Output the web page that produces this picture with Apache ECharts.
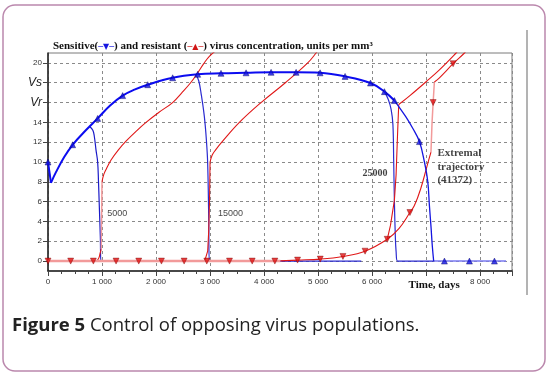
<!DOCTYPE html>
<html><head><meta charset="utf-8">
<script src="https://cdn.jsdelivr.net/npm/echarts/dist/echarts.min.js"></script>
<style>html,body{margin:0;padding:0;background:#fff}#c{width:549px;height:375px}</style>
</head><body><div id="c"></div>
<script>
// ---- data ----
const yTickValues = [0,2,4,6,8,10,12,14,16,18,20];
const yTickNames = {16:'Vr', 18:'Vs'};

const blueMainStart = [[0,10],[55,7.9]];
const blueMainUpper = [[55,7.9],[150,9.0],[300,10.5],[456,11.74],[700,13.2],[919,14.4],[1150,15.7],[1382,16.7],[1600,17.3],[1845,17.8],[2308,18.5],[2771,18.85],[3203,18.95],[3667,19.0],[4130,19.05],[4593,19.05],[5037,19.0],[5500,18.64],[5970,17.97],[6228,17.1],[6413,16.2]];
const blueMainLower = [[6413,16.2],[6620,14.6],[6752,13.4],[6876,12.06],[6969,10.0],[7031,8.0],[7061,5.6],[7090,3.5],[7115,1.5],[7140,0]];
const blueMainTail = [[7140,0],[8480,0]];
const blue5000 = [[765,13.6],[830,13.2],[857,12.6],[889,11.2],[919,10],[935,8],[950,5.5],[969,2.4],[981,0],[1500,0]];
const blue15000 = [[2740,18.8],[2790,18.2],[2833,16.96],[2894,14.6],[2935,12],[2956,9.87],[2975,4.5],[2987,0],[5800,0]];
const blue25000 = [[6228,17.1],[6300,16.3],[6352,15.3],[6385,13.8],[6400,10],[6413,6],[6430,2.5],[6444,1],[6470,0],[7140,0]];

const redBase = [[0,0],[4300,0]];
const red5000Rise = [[900,0],[940,0.3],[965,0.8],[985,1.2]];
const red5000Jump = [[985,1.2],[1000,8]];
const red5000Curve = [[1000,8],[1030,8.7],[1080,9.3],[1167,10.2],[1300,11.2],[1444,12.1],[1650,13.2],[1815,14],[2050,15],[2307,16],[2480,17],[2640,18],[2760,18.9],[2880,19.9],[2987,20.67],[3172,21.5]];
const red15000Step = [[2900,0],[2956,1.0],[2975,3],[2990,6],[3000,10]];
const red15000Curve = [[3000,10],[3040,10.7],[3100,11.2],[3233,12.1],[3543,14],[3944,16],[4394,18],[4808,20],[4963,21],[5000,21.3]];
const redExtRise = [[4300,0.02],[4620,0.1],[5040,0.2],[5460,0.47],[5870,1.0],[6280,2.2],[6500,3.3],[6700,4.9],[6783,5.6],[6900,7.3],[7031,9.87],[7090,11.0]];
const redExtJump = [[7090,11.0],[7110,14],[7130,16],[7153,18.07]];
const redExtCurve = [[7153,18.07],[7246,18.5],[7500,19.92],[7710,21],[7750,21.3]];
const red25000Step = [[6280,2.2],[6340,3.6],[6413,6.15],[6444,8.7],[6474,13.2],[6493,15.8]];
const red25000Curve = [[6493,15.8],[6700,16.7],[7000,18.1],[7246,19.3],[7555,21],[7600,21.3]];

const redMarkers = [[0,0],[420,0],[840,0],[1260,0],[1680,0],[2100,0],[2520,0],[2940,0],[3360,0],[3780,0],[4200,0],[4620,0.1],[5040,0.2],[5460,0.47],[5870,1.0],[6280,2.2],[6700,4.9],[7130,16],[7500,19.92]];
const blueMarkers = [[0,10],[456,11.74],[919,14.4],[1382,16.7],[1845,17.8],[2308,18.5],[2771,18.85],[3203,18.95],[3667,19.0],[4130,19.05],[4593,19.05],[5037,19.0],[5500,18.64],[5970,17.97],[6228,17.1],[6413,16.2],[6876,12.06],[7339,0],[7802,0],[8265,0]];

const annotations = [
  {name:'5000', value:[1283,4.8], kind:'plain'},
  {name:'15000', value:[3380,4.8], kind:'plain'},
  {name:'25000', value:[6052,8.83], kind:'bold'},
  {name:'Extremal\ntrajectory\n(41372)', value:[7209,11.6], kind:'block'}
];
const titleText = 'Sensitive({bl|─▼─}) and resistant ({rd|─▲─}) virus concentration, units per mm³';
const captionBold = 'Figure 5';
const captionRest = ' Control of opposing virus populations.';

// ---- chart ----
const chart = echarts.init(document.getElementById('c'), null, {renderer:'canvas'});
const RED = '#e01818', PINK = '#f29a9a';
function lineSeries(data, color, width, extra){
  return Object.assign({type:'line', data, showSymbol:false, symbol:'none', smooth:0.4,
    lineStyle:{color, width}, itemStyle:{color}, animation:false, silent:true, z:2}, extra||{});
}
const straight = {smooth:false};
const labelStyles = {
  plain:{fontFamily:'Liberation Sans, Arial', fontSize:9, color:'#111', align:'center', verticalAlign:'middle'},
  bold:{fontFamily:'Liberation Serif', fontWeight:'bold', fontSize:10, color:'#111', align:'center', verticalAlign:'middle'},
  block:{fontFamily:'Liberation Serif', fontWeight:'bold', fontSize:11, lineHeight:13.7, color:'#111', align:'left', verticalAlign:'top'}
};
const option = {
  backgroundColor:'#fff',
  animation:false,
  title:{text:titleText, left:48, top:36,
    textStyle:{fontFamily:'Liberation Serif', fontWeight:'bold', fontSize:11, color:'#111',
      rich:{bl:{color:'#1515e0', fontSize:8, fontFamily:'DejaVu Sans', fontWeight:'bold'},
            rd:{color:'#d01515', fontSize:8, fontFamily:'DejaVu Sans', fontWeight:'bold'}}}},
  grid:{left:48, top:53, width:464, height:218, show:true, borderColor:'#7a7a7a', borderWidth:1, backgroundColor:'transparent'},
  xAxis:{type:'value', min:0, max:8590, interval:1000,
    axisLine:{show:true, onZero:false, lineStyle:{color:'#222', width:1.5}},
    axisTick:{show:true, length:5, lineStyle:{color:'#444'}},
    minorTick:{show:true, splitNumber:4, length:3, lineStyle:{color:'#444'}},
    splitLine:{show:true, lineStyle:{color:'#8a8a8a', type:[3,3], width:1}},
    axisLabel:{showMaxLabel:false, fontFamily:'Liberation Sans, Arial', fontSize:8, color:'#333', margin:7,
      formatter:v=> v===0?'0': (v===7000?'{t|Time, days}': (v/1000)+' 000'),
      rich:{t:{fontFamily:'Liberation Serif', fontWeight:'bold', fontSize:11, color:'#111', padding:[2,0,0,16]}}}},
  yAxis:{type:'value', min:-1, max:21,
    axisLine:{show:true, onZero:false, lineStyle:{color:'#222', width:1.5}},
    axisTick:{show:true, length:5, customValues:yTickValues, lineStyle:{color:'#444'}},
    splitLine:{show:true, lineStyle:{color:'#8a8a8a', type:[3,3], width:1}},
    axisLabel:{customValues:yTickValues, fontFamily:'Liberation Sans, Arial', fontSize:8, color:'#333', margin:6,
      formatter:v=> yTickNames[v]? '{i|'+yTickNames[v]+'}' : String(v),
      rich:{i:{fontFamily:'Liberation Sans, Arial', fontStyle:'italic', fontSize:12, color:'#222'}}}},
  series:[
    lineSeries(blue5000,'#1a1ac8',1.2),
    lineSeries(blue15000,'#2a2ad0',1.2),
    lineSeries(blue25000,'#2a2ad0',1.2),
    lineSeries(blueMainTail,'#7a7af2',1.5,straight),
    lineSeries(redBase,PINK,2.5,{smooth:false, z:3}),
    lineSeries(red5000Rise,RED,1.1),
    lineSeries(red5000Jump,PINK,1.5,straight),
    lineSeries(red5000Curve,RED,1.1),
    lineSeries(red15000Step,RED,1.1,straight),
    lineSeries(red15000Curve,RED,1.1),
    lineSeries(red25000Step,RED,1.1,straight),
    lineSeries(red25000Curve,RED,1.1),
    lineSeries(redExtRise,RED,1.1),
    lineSeries(redExtJump,PINK,1.5,straight),
    lineSeries(redExtCurve,RED,1.1),
    lineSeries(blueMainStart,'#0c0cf0',2,{smooth:false, z:4}),
    lineSeries(blueMainUpper,'#0c0cf0',2,{z:4}),
    lineSeries(blueMainLower,'#1515e0',1.3,{z:4}),
    {type:'scatter', data:redMarkers, symbol:'triangle', symbolRotate:180, symbolSize:6, silent:true, z:5,
      itemStyle:{color:'#e01010', borderColor:'#7a0000', borderWidth:0.5}},
    {type:'scatter', data:blueMarkers, symbol:'triangle', symbolSize:6, silent:true, z:5,
      itemStyle:{color:'#1010e0', borderColor:'#000060', borderWidth:0.5}},
    {type:'scatter', symbolSize:0, silent:true, z:6,
      data:annotations.map(a=>({name:a.name, value:a.value,
        label:Object.assign({show:true, position:'inside', formatter:'{b}'}, labelStyles[a.kind])}))}
  ],
  graphic:[
    {type:'rect', shape:{x:3, y:5, width:542, height:366, r:12}, style:{fill:'none', stroke:'#bb88ad', lineWidth:1.5}, silent:true},
    {type:'line', shape:{x1:527, y1:30, x2:527, y2:295}, style:{stroke:'#9a9a9a', lineWidth:1.5}, silent:true},
    {type:'text', left:12, top:316, style:{text:'{b|'+captionBold+'}'+captionRest, fontFamily:'Open Sans', fontSize:18.5, fill:'#222',
      rich:{b:{fontFamily:'Open Sans', fontWeight:'bold', fontSize:18.5, fill:'#222'}}}}
  ]
};
chart.setOption(option);
</script></body></html>
